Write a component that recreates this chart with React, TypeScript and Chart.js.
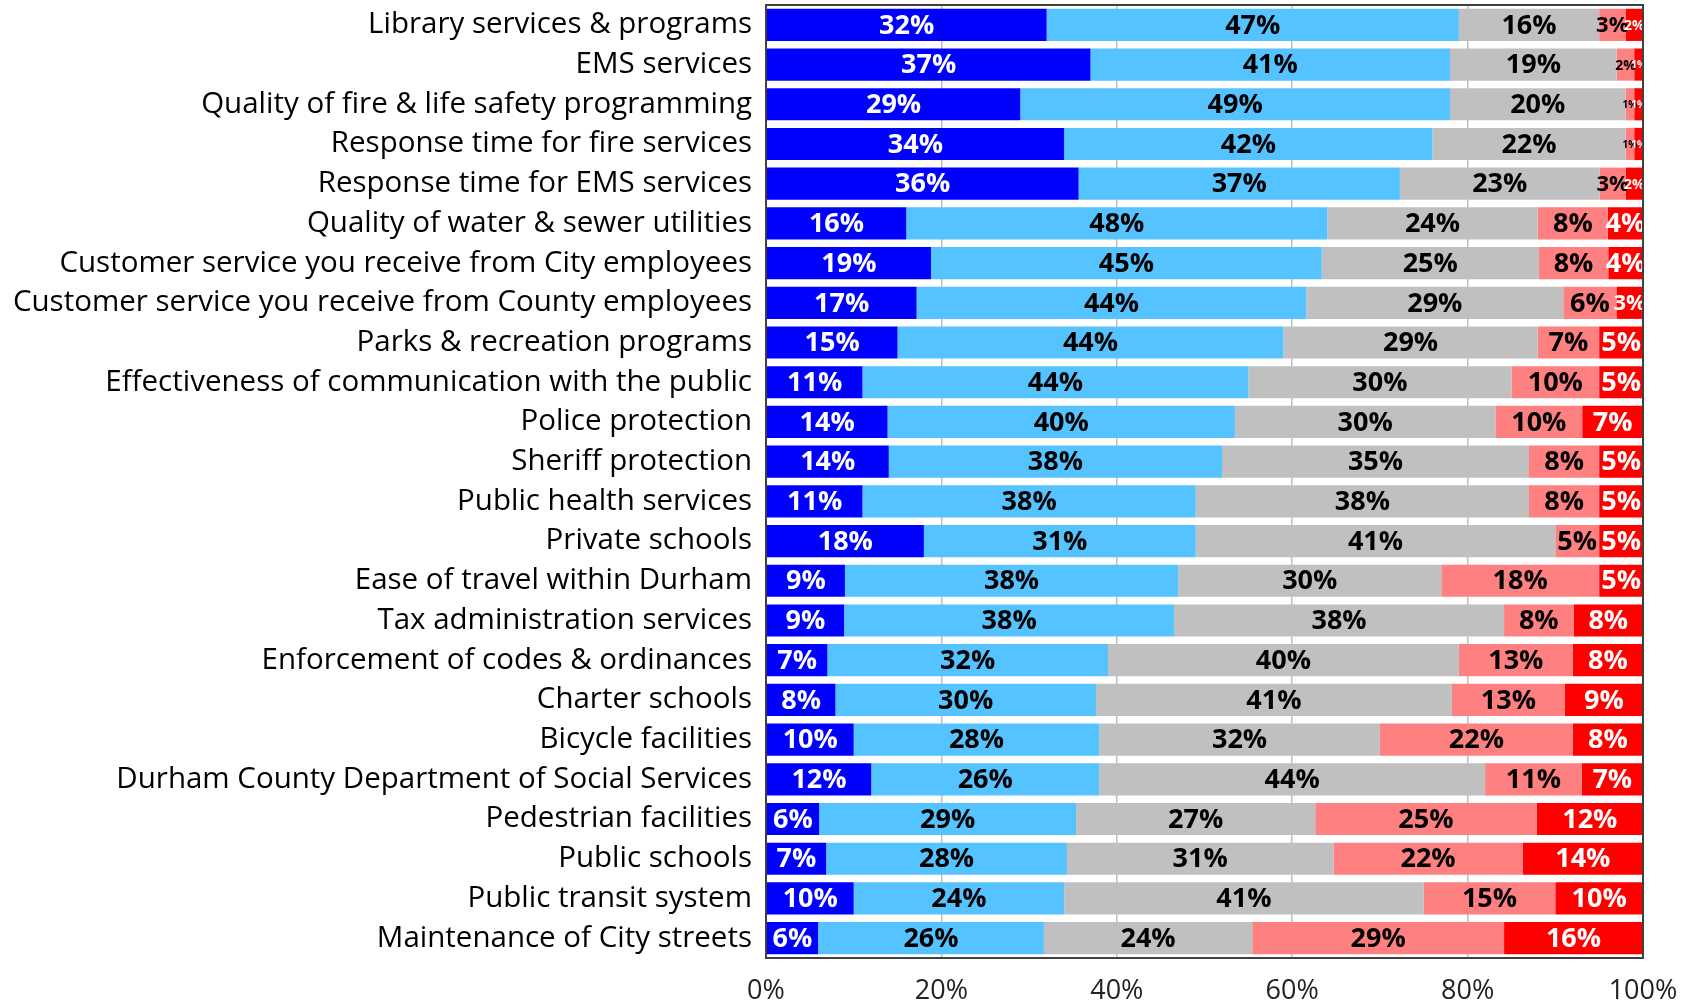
import React, { useEffect, useRef } from "react";
import { Chart, registerables } from "chart.js";

Chart.register(...registerables);

const categories = [
  "Library services & programs",
  "EMS services",
  "Quality of fire & life safety programming",
  "Response time for fire services",
  "Response time for EMS services",
  "Quality of water & sewer utilities",
  "Customer service you receive from City employees",
  "Customer service you receive from County employees",
  "Parks & recreation programs",
  "Effectiveness of communication with the public",
  "Police protection",
  "Sheriff protection",
  "Public health services",
  "Private schools",
  "Ease of travel within Durham",
  "Tax administration services",
  "Enforcement of codes & ordinances",
  "Charter schools",
  "Bicycle facilities",
  "Durham County Department of Social Services",
  "Pedestrian facilities",
  "Public schools",
  "Public transit system",
  "Maintenance of City streets",
];

const verySatisfied = [32, 37, 29, 34, 36, 16, 19, 17, 15, 11, 14, 14, 11, 18, 9, 9, 7, 8, 10, 12, 6, 7, 10, 6];
const satisfied = [47, 41, 49, 42, 37, 48, 45, 44, 44, 44, 40, 38, 38, 31, 38, 38, 32, 30, 28, 26, 29, 28, 24, 26];
const neutral = [16, 19, 20, 22, 23, 24, 25, 29, 29, 30, 30, 35, 38, 41, 30, 38, 40, 41, 32, 44, 27, 31, 41, 24];
const dissatisfied = [3, 2, 1, 1, 3, 8, 8, 6, 7, 10, 10, 8, 8, 5, 18, 8, 13, 13, 22, 11, 25, 22, 15, 29];
const veryDissatisfied = [2, 1, 1, 1, 2, 4, 4, 3, 5, 5, 7, 5, 5, 5, 5, 8, 8, 9, 8, 7, 12, 14, 10, 16];

const seriesNames = ["Very satisfied", "Satisfied", "Neutral", "Dissatisfied", "Very dissatisfied"];
const seriesValues = [verySatisfied, satisfied, neutral, dissatisfied, veryDissatisfied];
const seriesColors = ["#0000FF", "#55C3FF", "#C0C0C0", "#FF8080", "#FF0000"];
const labelColors = ["#FFFFFF", "#000000", "#000000", "#000000", "#FFFFFF"];
const tickLabels = ["0%", "20%", "40%", "60%", "80%", "100%"];

const FONT = '"Open Sans", "DejaVu Sans", sans-serif';

const rowSums = categories.map((_, i) =>
  seriesValues.reduce((s, arr) => s + arr[i], 0)
);

const segLabelPlugin = {
  id: "segLabels",
  afterDatasetsDraw(chart: any) {
    const ctx = chart.ctx;
    ctx.save();
    chart.data.datasets.forEach((ds: any, di: number) => {
      const meta = chart.getDatasetMeta(di);
      meta.data.forEach((el: any, i: number) => {
        const raw = ds.rawValues[i];
        const p = el.getProps(["x", "base", "y"], true);
        const cx = (p.x + p.base) / 2;
        const size = raw >= 4 ? 27 : raw === 3 ? 22 : raw === 2 ? 14 : 10;
        ctx.font = `bold ${size}px ${FONT}`;
        ctx.fillStyle = labelColors[di];
        ctx.textAlign = "center";
        ctx.textBaseline = "middle";
        ctx.fillText(raw + "%", cx, p.y + 1);
      });
    });
    ctx.restore();
  },
  afterDraw(chart: any) {
    const a = chart.chartArea;
    const ctx = chart.ctx;
    ctx.save();
    ctx.strokeStyle = "#404040";
    ctx.lineWidth = 2;
    ctx.strokeRect(a.left, a.top, a.right - a.left, a.bottom - a.top);
    ctx.restore();
  },
};

export default function App() {
  const ref = useRef<HTMLCanvasElement | null>(null);

  useEffect(() => {
    document.body.style.margin = "0";
    if (!ref.current) return;
    const datasets = seriesValues.map((vals, di) => ({
      label: seriesNames[di],
      data: vals.map((v, i) => (v / rowSums[i]) * 100),
      rawValues: vals,
      backgroundColor: seriesColors[di],
      borderWidth: 0,
      barPercentage: 0.81,
      categoryPercentage: 1,
    }));
    const chart = new Chart(ref.current, {
      type: "bar",
      data: { labels: categories, datasets: datasets as any },
      options: {
        indexAxis: "y",
        animation: false,
        responsive: true,
        maintainAspectRatio: false,
        layout: { padding: { top: 5, right: 48, bottom: 0, left: 0 } },
        plugins: {
          legend: { display: false },
          tooltip: { enabled: false },
        },
        scales: {
          x: {
            stacked: true,
            min: 0,
            max: 100,
            afterFit: (scale: any) => {
              scale.height = 46;
              scale.paddingLeft = 0;
              scale.paddingRight = 0;
            },
            afterBuildTicks: (scale: any) => {
              scale.ticks = tickLabels.map((_, i) => ({ value: i * 20 }));
            },
            ticks: {
              callback: (_v: any, i: number) => tickLabels[i],
              font: { family: FONT, size: 27 },
              color: "#222222",
              padding: 17,
              maxRotation: 0,
            },
            grid: { color: "#BFBFBF", lineWidth: 1.5, drawTicks: false },
            border: { display: false },
          },
          y: {
            stacked: true,
            afterFit: (scale: any) => {
              scale.width = 766;
              scale.paddingTop = 0;
              scale.paddingBottom = 0;
            },
            ticks: {
              font: { family: FONT, size: 29.5 },
              color: "#000000",
              padding: 14,
              autoSkip: false,
            },
            grid: { display: false, drawTicks: false },
            border: { display: false },
          },
        },
      },
      plugins: [segLabelPlugin],
    });
    return () => chart.destroy();
  }, []);

  return (
    <div style={{ width: 1691, height: 1004, position: "relative", background: "#FFFFFF" }}>
      <canvas ref={ref} />
    </div>
  );
}
